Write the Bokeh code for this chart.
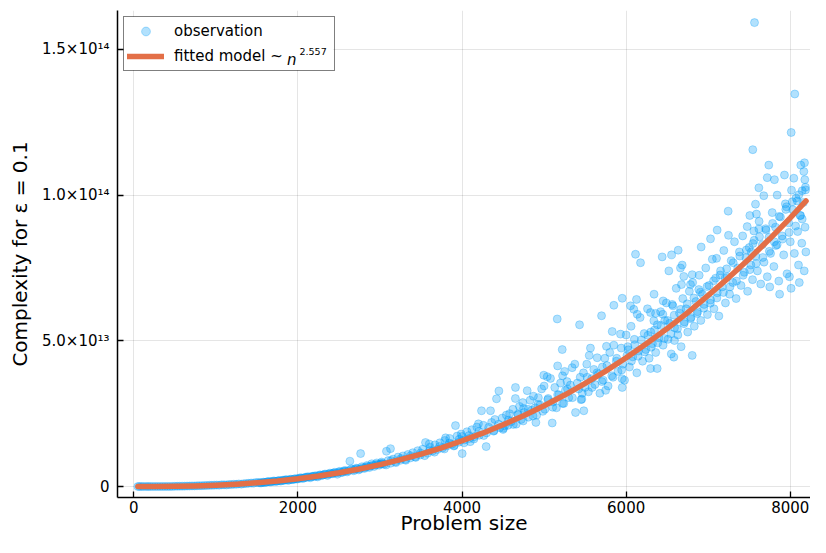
import numpy as np
from bokeh.plotting import figure
from bokeh.models import (Range1d, FixedTicker, CustomJSTickFormatter, Legend,
                          LegendItem, BoxAnnotation)
from bokeh.core.properties import value
from bokeh.embed import file_html
from bokeh.resources import INLINE

# ---------------- data ----------------
x_ticks = [0, 2000, 4000, 6000, 8000]
y_ticks = [0, 5e13, 1e14, 1.5e14]
y_tick_labels = ["0", "5.0×10¹³", "1.0×10¹⁴", "1.5×10¹⁴"]

x_label = "Problem size"
y_label = "Complexity for ε = 0.1"
obs_label = "observation"
fit_label = "fitted model ~"
fit_var = "n"
fit_exponent = "2.557"

UNIT = 1e12  # values below are in units of 1e12

fit_n = [50, 250, 500, 750, 1000, 1250, 1500, 1750, 2000, 2250, 2500, 2750,
         3000, 3250, 3500, 3750, 4000, 4250, 4500, 4750, 5000, 5250, 5500,
         5750, 6000, 6250, 6500, 6750, 7000, 7250, 7500, 7750, 8000, 8192]
fit_value = [0.0, 0.013, 0.077, 0.217, 0.45, 0.80, 1.28, 1.89, 2.66, 3.60,
             4.71, 6.01, 7.51, 9.21, 11.13, 13.29, 15.7, 18.3, 21.2, 24.3,
             27.7, 31.4, 35.4, 39.6, 44.2, 49.1, 54.2, 59.7, 65.6, 71.7,
             78.2, 85.0, 92.2, 98.0]

obs_n_a = [50, 70, 95, 120, 150, 175, 200, 230, 260, 290,
           320, 350, 380, 410, 440, 470, 500, 530, 560, 590,
           620, 650, 680, 710, 740, 770, 800, 830, 860, 890,
           920, 950, 980, 1010, 1040, 1070, 1100, 1130, 1160, 1190,
           1220, 1250, 1280, 1310, 1340, 1370, 1400, 1430, 1460, 1490]
obs_value_a = [0.0, 0.0, 0.0, 0.001, 0.001, 0.002, 0.003, 0.004, 0.006, 0.008,
               0.01, 0.014, 0.018, 0.022, 0.028, 0.033, 0.08, 0.09, 0.1, 0.12,
               0.13, 0.15, 0.17, 0.21, 0.2, 0.25, 0.3, 0.28, 0.36, 0.34,
               0.42, 0.4, 0.47, 0.5, 0.46, 0.58, 0.6, 0.55, 0.7, 0.66,
               0.78, 0.74, 0.9, 0.82, 0.98, 1.02, 1.1, 1.2, 1.15, 1.4]

obs_n_b = [1520, 1550, 1580, 1610, 1640, 1670, 1700, 1730, 1760, 1790,
           1820, 1850, 1880, 1910, 1940, 1970, 2000, 2030, 2060, 2090,
           2120, 2150, 2180, 2210, 2240, 2270, 2300, 2330, 2360, 2390,
           2420, 2450, 2480, 2510, 2540, 2570, 2600, 2633, 2650, 2680,
           2710, 2740, 2764, 2780, 2810, 2840, 2870, 2900, 2930, 2960,
           2990, 3020, 3050, 3079, 3128]
obs_value_b = [1.35, 1.2, 1.5, 1.45, 1.7, 1.55, 1.9, 1.75, 2.0, 1.85,
               2.2, 2.3, 2.1, 2.5, 2.35, 2.7, 2.6, 3.0, 2.75, 3.2,
               3.35, 3.0, 3.5, 3.7, 3.3, 4.0, 3.9, 4.3, 3.8, 4.6,
               4.4, 4.9, 4.2, 5.2, 4.8, 5.5, 5.0, 8.7, 6.0, 5.4,
               6.3, 5.7, 11.3, 6.8, 6.2, 7.2, 6.5, 7.8, 6.9, 8.1,
               7.3, 8.4, 7.6, 12.1, 13.0]

obs_n_b2 = [1535, 1565, 1595, 1625, 1655, 1685, 1715, 1745, 1775, 1805,
            1835, 1865, 1895, 1925, 1955, 1985, 2015, 2045, 2075, 2105,
            2135, 2165, 2195, 2225, 2255, 2285, 2315, 2345, 2375, 2405,
            2435, 2465, 2495, 2525, 2555, 2585, 2615, 2665, 2695, 2725,
            2755, 2795, 2825, 2855, 2885, 2915, 2945, 2975, 3005, 3035]
obs_value_b2 = [1.28, 1.42, 1.38, 1.6, 1.62, 1.72, 1.85, 1.83, 2.05, 2.0,
                2.15, 2.35, 2.32, 2.45, 2.6, 2.55, 2.85, 2.9, 2.95, 3.15,
                3.25, 3.4, 3.45, 3.55, 3.8, 3.75, 4.05, 4.2, 4.25, 4.4,
                4.6, 4.65, 4.9, 4.85, 5.2, 5.3, 5.45, 5.75, 5.9, 6.15,
                6.0, 6.45, 6.6, 6.9, 7.0, 7.3, 7.45, 7.6, 7.7, 7.9]

obs_n_c = [3100, 3130, 3160, 3190, 3220, 3250, 3280, 3310, 3340, 3370,
           3400, 3430, 3460, 3490, 3520, 3555, 3580, 3610, 3640, 3670,
           3700, 3730, 3760, 3790, 3820, 3850, 3880, 3920, 3940, 3960,
           3990, 4002, 4030, 4060, 4090, 4120, 4150, 4180, 4210, 4237,
           4260, 4294, 4300, 4347, 4360, 4390, 4420, 4449, 4460, 4490,
           4520, 4540, 3600, 3800, 3900, 4000, 4100, 4200, 4400, 4500]
obs_value_c = [8.9, 8.0, 9.4, 8.5, 10.1, 9.0, 10.5, 9.3, 11.0, 9.8,
               11.6, 10.2, 12.3, 10.8, 12.8, 15.1, 11.4, 13.5, 12.2, 14.3,
               12.7, 15.0, 13.2, 15.8, 14.0, 16.5, 14.6, 20.9, 17.3, 15.2,
               18.0, 11.3, 16.0, 18.8, 16.5, 19.5, 17.1, 20.4, 17.6, 26.0,
               21.0, 13.7, 18.4, 26.0, 22.0, 19.2, 30.1, 32.8, 20.2, 23.5,
               20.8, 24.5, 14.6, 16.7, 13.9, 17.2, 15.4, 21.5, 23.0, 19.6]

obs_n_c2 = [3015, 3075, 3135, 3195, 3255, 3315, 3375, 3435, 3495, 3545,
            3605, 3665, 3725, 3785, 3845, 3905, 3965, 4025, 4085, 4145,
            4205, 4265, 4325, 4385, 4445, 4505, 4565, 4625, 4685, 4745,
            4805, 4865, 4925, 4985, 5045, 5105, 5165, 5225, 5285, 5345,
            5405, 5465, 5525, 5585, 5645, 5705, 5765, 5825, 5885, 5945]
obs_value_c2 = [7.9, 7.4, 8.9, 8.2, 9.6, 9.0, 10.6, 10.0, 11.5, 10.6,
                12.4, 11.8, 13.7, 12.9, 14.9, 14.1, 16.2, 15.0, 17.5, 16.3,
                18.9, 17.5, 20.3, 19.0, 21.4, 20.0, 22.8, 21.3, 24.6, 22.5,
                26.5, 24.2, 28.2, 25.8, 29.8, 27.2, 31.5, 28.5, 33.5, 30.5,
                35.5, 32.0, 37.5, 34.0, 39.0, 36.0, 41.5, 38.0, 44.0, 40.0]

obs_n_d = [4560, 4580, 4600, 4620, 4651, 4660, 4680, 4700, 4720, 4740,
           4760, 4794, 4810, 4830, 4850, 4870, 4890, 4910, 4930, 4950,
           4970, 4996, 5010, 5038, 5050, 5078, 5099, 5110, 5130, 5160,
           5165, 5180, 5200, 5221, 5225, 5240, 5260, 5280, 5300, 5320,
           5342, 5383, 5374, 5420, 5432, 5440, 5460, 5484, 5480, 5500,
           5520, 5540, 5565, 5580, 5606, 5620, 5647, 5660, 5680, 5700,
           5710, 5720, 5740, 5760, 5780, 5800, 5830, 5840, 5850, 5880,
           5900, 5931, 5952, 5952, 5940, 5960, 5980, 6000, 6010, 4900,
           4650, 5150, 5450, 5750, 5950, 5000, 5250, 5550, 5850, 4750]
obs_value_d = [21.0, 25.0, 22.3, 26.5, 34.0, 21.4, 24.8, 27.5, 23.0, 28.8,
               25.4, 32.9, 23.8, 29.6, 26.2, 31.0, 27.0, 24.5, 30.5, 28.0,
               33.5, 38.2, 26.5, 37.7, 30.2, 37.1, 21.8, 29.0, 34.0, 57.5,
               41.4, 31.5, 35.5, 47.0, 38.0, 28.5, 33.0, 36.0, 30.5, 34.8,
               40.8, 25.4, 42.0, 33.5, 55.5, 37.5, 30.0, 26.0, 39.0, 34.0,
               42.0, 32.5, 47.5, 37.0, 40.2, 35.0, 44.2, 38.5, 32.0, 58.6,
               41.0, 36.5, 44.0, 48.1, 34.5, 46.0, 53.2, 37.5, 62.2, 43.0,
               39.5, 52.3, 64.6, 34.0, 47.5, 42.0, 36.5, 52.0, 45.0, 22.0,
               30.2, 27.0, 29.8, 33.0, 37.0, 34.5, 39.5, 45.0, 48.5, 26.8]

obs_n_e = [6053, 6093, 6126, 6135, 6114, 6175, 6297, 6378, 6581, 6805,
           6589, 6674, 6784, 6885, 6520, 6662, 6702, 6805, 6297, 6358,
           6447, 6561, 6337, 6451, 6634, 6553, 6439, 6683, 6914, 7028,
           7109, 7101, 7247, 7243, 7475, 7507, 7556, 7576, 7588, 7617,
           7617, 7677, 7719, 7738, 7807, 7840, 7929, 7954, 8015, 8043,
           8128, 8145, 8165, 8173, 8177, 8186, 7543, 8011, 8055, 7564]
obs_value_e = [62.0, 60.8, 64.2, 59.1, 79.7, 76.8, 40.5, 40.5, 44.4, 45.0,
               50.1, 69.3, 69.3, 67.6, 74.0, 75.0, 72.1, 72.7, 59.7, 59.4,
               59.1, 62.5, 56.9, 63.7, 81.1, 79.5, 78.8, 76.0, 82.2, 85.0,
               88.0, 78.3, 86.2, 94.5, 89.2, 93.0, 87.7, 96.9, 93.5, 88.4,
               102.5, 99.8, 106.0, 110.3, 105.3, 100.0, 106.9, 96.0, 101.7, 105.8,
               110.3, 101.5, 108.1, 111.1, 105.3, 101.8, 115.6, 121.5, 134.7, 159.2]

obs_n_f = [6020, 6040, 6060, 6080, 6100, 6130, 6150, 6170, 6200, 6220,
           6240, 6260, 6280, 6300, 6320, 6340, 6360, 6380, 6400, 6420,
           6450, 6470, 6490, 6510, 6530, 6550, 6570, 6590, 6610, 6630,
           6650, 6670, 6690, 6710, 6730, 6750, 6770, 6790, 6810, 6830,
           6850, 6870, 6890, 6910, 6930, 6950, 6970, 6990, 7010, 7030,
           7050, 7070, 7090, 7110, 7130, 7150, 7170, 7190, 7210, 7230,
           7260, 7280, 7300, 7320, 7340, 7360, 7380, 7400, 7420, 7440,
           7460, 7480, 7500, 7520, 7540, 7560, 7580, 7600, 7620, 7640,
           7660, 7680, 7700, 7720, 7740, 7760, 7780, 7800, 7820, 7840,
           7860, 7880, 7900, 7920, 7940, 7960, 7980, 8000, 8010, 8030,
           8050, 8070, 8090, 8100, 8120, 8140, 8160, 8180, 8190, 8170,
           8110, 7990, 7870, 7750]
obs_value_f = [48.0, 41.0, 55.0, 44.5, 50.5, 39.0, 46.5, 58.0, 43.0, 52.5,
               47.0, 61.0, 44.0, 53.0, 49.0, 66.0, 46.0, 55.5, 51.0, 60.0,
               48.5, 57.0, 63.0, 50.5, 56.0, 45.5, 62.0, 54.5, 68.0, 52.0,
               59.5, 48.0, 64.5, 56.5, 61.0, 53.0, 67.0, 58.0, 70.0, 55.0,
               63.5, 60.0, 72.5, 57.0, 66.0, 62.5, 75.0, 59.0, 69.0, 64.0,
               78.0, 61.0, 71.5, 66.5, 58.5, 74.0, 68.5, 81.0, 63.0, 72.0,
               66.0, 77.5, 70.0, 84.0, 64.5, 75.0, 80.5, 69.0, 86.0, 73.5,
               78.5, 67.0, 82.0, 76.0, 71.0, 84.5, 79.0, 74.0, 91.0, 69.5,
               83.0, 77.0, 88.5, 72.0, 85.5, 80.0, 94.0, 75.5, 89.0, 83.0,
               70.5, 92.5, 86.0, 79.5, 97.0, 73.0, 90.5, 84.0, 68.0, 95.0,
               80.0, 99.0, 87.5, 76.0, 93.0, 83.5, 97.5, 89.0, 80.5, 74.0,
               70.0, 72.0, 66.0, 68.5]

obs_n_g = [6025, 6065, 6105, 6145, 6185, 6225, 6265, 6305, 6345, 6385,
           6425, 6465, 6505, 6545, 6585, 6625, 6665, 6705, 6745, 6785,
           6825, 6865, 6905, 6945, 6985, 7025, 7065, 7105, 7145, 7185,
           7225, 7265, 7305, 7345, 7385, 7425, 7465, 7505, 7545, 7585,
           7625, 7665, 7705, 7745, 7785, 7825, 7865, 7905, 7945, 7985,
           8025, 8065, 8105, 8145, 8185, 8125, 8085, 7805, 7525, 7205]
obs_value_g = [46.9, 43.1, 48.6, 44.7, 50.3, 46.2, 51.9, 47.8, 53.7, 49.3,
               55.3, 50.8, 57.0, 52.4, 58.8, 54.1, 60.8, 55.9, 62.7, 57.6,
               64.7, 59.4, 66.7, 61.2, 68.6, 62.9, 70.6, 64.7, 72.6, 66.6,
               74.7, 68.5, 76.8, 70.5, 79.1, 72.5, 81.2, 74.4, 83.4, 76.5,
               85.7, 78.6, 88.0, 80.7, 90.3, 82.7, 92.7, 84.9, 95.1, 87.2,
               97.7, 89.4, 100.1, 91.8, 102.7, 93.0, 98.0, 84.0, 80.5, 71.5]

obs_n = (obs_n_a + obs_n_b + obs_n_b2 + obs_n_c + obs_n_c2 + obs_n_d
         + obs_n_e + obs_n_f + obs_n_g)
obs_value = (obs_value_a + obs_value_b + obs_value_b2 + obs_value_c
             + obs_value_c2 + obs_value_d + obs_value_e + obs_value_f
             + obs_value_g)
assert len(obs_n) == len(obs_value)

# ---------------- styles ----------------
BLUE = "#009AFA"
ORANGE = "#E36F47"
FONT = "DejaVu Sans"

p = figure(width=810, height=537, output_backend="svg", toolbar_location=None,
           x_range=Range1d(-198.6, 8246.4), y_range=Range1d(-3.77e12, 1.6336e14),
           min_border_left=117, min_border_right=0, min_border_top=10,
           min_border_bottom=39)
p.outline_line_color = None
p.background_fill_color = "white"
p.border_fill_color = "white"

# white backing for the legend box, drawn just above the grid
p.add_layout(BoxAnnotation(left=-125, right=2433, top=1.612e14, bottom=1.429e14,
                           fill_color="white", fill_alpha=1, line_color=None,
                           level="underlay"))

r_obs = p.scatter(obs_n, np.array(obs_value) * UNIT, size=8,
                  fill_color=BLUE, fill_alpha=0.3,
                  line_color=BLUE, line_alpha=0.3, line_width=1)
r_fit = p.line(fit_n, np.array(fit_value) * UNIT, line_color=ORANGE,
               line_width=5.5, line_cap="round", line_join="round")

# axes
p.xaxis.ticker = FixedTicker(ticks=x_ticks)
p.yaxis.ticker = FixedTicker(ticks=y_ticks)
p.yaxis.formatter = CustomJSTickFormatter(
    args=dict(tv=y_ticks, tl=y_tick_labels),
    code="""
for (let i = 0; i < tv.length; i++) {
  if (Math.abs(tv[i] - tick) < 1e9) { return tl[i]; }
}
return "";
""")
p.xaxis.axis_label = x_label
p.yaxis.axis_label = y_label
for ax in (p.xaxis[0], p.yaxis[0]):
    ax.axis_line_color = "black"
    ax.axis_line_width = 1.5
    ax.major_tick_in = 6
    ax.major_tick_out = 0
    ax.major_tick_line_width = 1.3
    ax.major_tick_line_color = "black"
    ax.minor_tick_in = 0
    ax.minor_tick_out = 0
    ax.major_label_text_font = FONT
    ax.major_label_text_font_size = "15px"
    ax.major_label_text_color = "black"
    ax.axis_label_text_font = FONT
    ax.axis_label_text_font_size = "20px"
    ax.axis_label_text_font_style = "normal"
    ax.axis_label_text_color = "black"
p.xaxis.major_label_standoff = 3
p.xaxis.axis_label_standoff = -5
p.yaxis.major_label_standoff = 8
p.yaxis.axis_label_standoff = 7

p.grid.grid_line_color = "black"
p.grid.grid_line_alpha = 0.1
p.grid.grid_line_width = 1

# legend
legend = Legend(items=[LegendItem(label=obs_label, renderers=[r_obs]),
                       LegendItem(label=fit_label, renderers=[r_fit])],
                location="top_left", margin=6, padding=3, spacing=3,
                glyph_width=37, glyph_height=22, label_height=22,
                label_width=157, label_standoff=10,
                label_text_font=FONT, label_text_font_size="15px",
                label_text_color="black",
                border_line_color="black", border_line_width=1.5,
                background_fill_color="white", background_fill_alpha=0)
p.add_layout(legend)

# italic "n" and exponent of the fitted-model legend entry
p.text(x=[1868], y=[1.4640e14], text=[fit_var], text_font=value(FONT),
       text_font_style="italic", text_font_size="15px",
       text_baseline="alphabetic", text_align="left", text_color="black")
p.text(x=[2019], y=[1.4914e14], text=[fit_exponent], text_font=value(FONT),
       text_font_size="9.5px", text_baseline="alphabetic", text_align="left",
       text_color="black")

open("out.html", "w", encoding="utf-8").write(file_html(p, INLINE, "plot"))
